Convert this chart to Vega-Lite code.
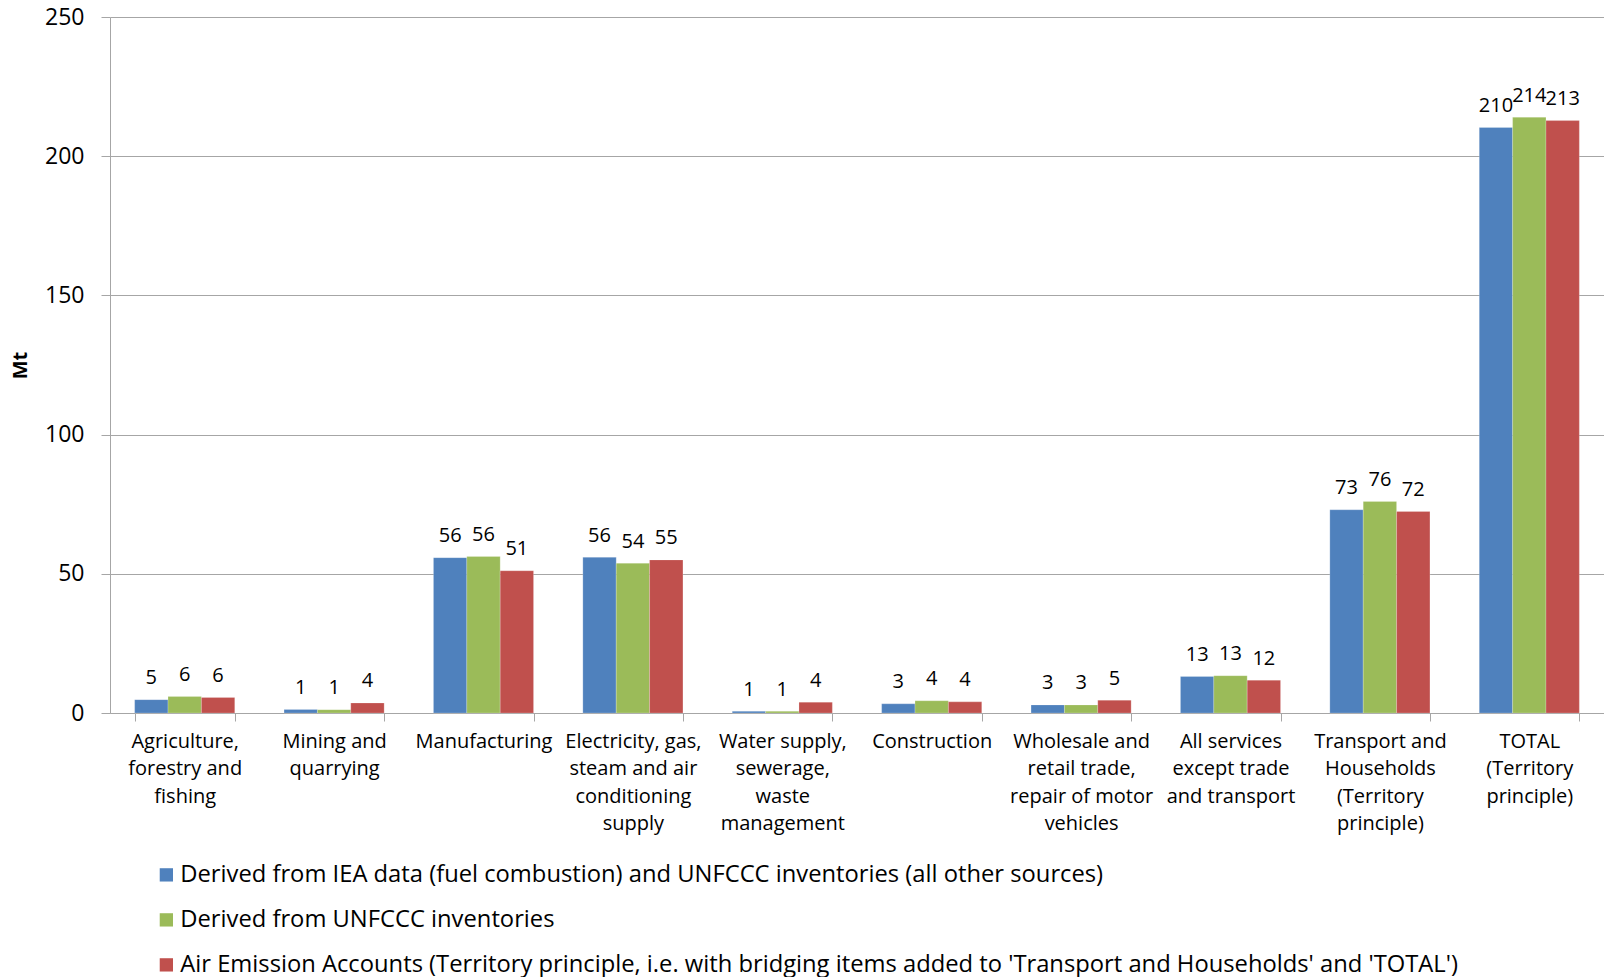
{
  "$schema": "https://vega.github.io/schema/vega-lite/v6.json",
  "width": 1494,
  "height": 696,
  "autosize": {"type": "none"},
  "padding": {"left": 110, "top": 17, "right": 0, "bottom": 264},
  "background": "white",
  "config": {
    "view": {"stroke": null},
    "font": "Open Sans",
    "text": {"font": "Open Sans", "color": "#000000"}
  },
  "data": {
    "values": [
      {"sector": "Agriculture,\nforestry and\nfishing", "source": "Derived from IEA data (fuel combustion) and UNFCCC inventories (all other sources)", "mt": 4.8},
      {"sector": "Agriculture,\nforestry and\nfishing", "source": "Derived from UNFCCC inventories", "mt": 5.9},
      {"sector": "Agriculture,\nforestry and\nfishing", "source": "Air Emission Accounts (Territory principle, i.e. with bridging items added to 'Transport and Households' and 'TOTAL')", "mt": 5.6},
      {"sector": "Mining and\nquarrying", "source": "Derived from IEA data (fuel combustion) and UNFCCC inventories (all other sources)", "mt": 1.3},
      {"sector": "Mining and\nquarrying", "source": "Derived from UNFCCC inventories", "mt": 1.2},
      {"sector": "Mining and\nquarrying", "source": "Air Emission Accounts (Territory principle, i.e. with bridging items added to 'Transport and Households' and 'TOTAL')", "mt": 3.6},
      {"sector": "Manufacturing", "source": "Derived from IEA data (fuel combustion) and UNFCCC inventories (all other sources)", "mt": 55.8},
      {"sector": "Manufacturing", "source": "Derived from UNFCCC inventories", "mt": 56.2},
      {"sector": "Manufacturing", "source": "Air Emission Accounts (Territory principle, i.e. with bridging items added to 'Transport and Households' and 'TOTAL')", "mt": 51.1},
      {"sector": "Electricity, gas,\nsteam and air\nconditioning\nsupply", "source": "Derived from IEA data (fuel combustion) and UNFCCC inventories (all other sources)", "mt": 55.9},
      {"sector": "Electricity, gas,\nsteam and air\nconditioning\nsupply", "source": "Derived from UNFCCC inventories", "mt": 53.8},
      {"sector": "Electricity, gas,\nsteam and air\nconditioning\nsupply", "source": "Air Emission Accounts (Territory principle, i.e. with bridging items added to 'Transport and Households' and 'TOTAL')", "mt": 55.0},
      {"sector": "Water supply,\nsewerage,\nwaste\nmanagement", "source": "Derived from IEA data (fuel combustion) and UNFCCC inventories (all other sources)", "mt": 0.6},
      {"sector": "Water supply,\nsewerage,\nwaste\nmanagement", "source": "Derived from UNFCCC inventories", "mt": 0.6},
      {"sector": "Water supply,\nsewerage,\nwaste\nmanagement", "source": "Air Emission Accounts (Territory principle, i.e. with bridging items added to 'Transport and Households' and 'TOTAL')", "mt": 3.9},
      {"sector": "Construction", "source": "Derived from IEA data (fuel combustion) and UNFCCC inventories (all other sources)", "mt": 3.3},
      {"sector": "Construction", "source": "Derived from UNFCCC inventories", "mt": 4.4},
      {"sector": "Construction", "source": "Air Emission Accounts (Territory principle, i.e. with bridging items added to 'Transport and Households' and 'TOTAL')", "mt": 4.0},
      {"sector": "Wholesale and\nretail trade,\nrepair of motor\nvehicles", "source": "Derived from IEA data (fuel combustion) and UNFCCC inventories (all other sources)", "mt": 2.9},
      {"sector": "Wholesale and\nretail trade,\nrepair of motor\nvehicles", "source": "Derived from UNFCCC inventories", "mt": 2.9},
      {"sector": "Wholesale and\nretail trade,\nrepair of motor\nvehicles", "source": "Air Emission Accounts (Territory principle, i.e. with bridging items added to 'Transport and Households' and 'TOTAL')", "mt": 4.6},
      {"sector": "All services\nexcept trade\nand transport", "source": "Derived from IEA data (fuel combustion) and UNFCCC inventories (all other sources)", "mt": 13.1},
      {"sector": "All services\nexcept trade\nand transport", "source": "Derived from UNFCCC inventories", "mt": 13.4},
      {"sector": "All services\nexcept trade\nand transport", "source": "Air Emission Accounts (Territory principle, i.e. with bridging items added to 'Transport and Households' and 'TOTAL')", "mt": 11.8},
      {"sector": "Transport and\nHouseholds\n(Territory\nprinciple)", "source": "Derived from IEA data (fuel combustion) and UNFCCC inventories (all other sources)", "mt": 73.0},
      {"sector": "Transport and\nHouseholds\n(Territory\nprinciple)", "source": "Derived from UNFCCC inventories", "mt": 76.0},
      {"sector": "Transport and\nHouseholds\n(Territory\nprinciple)", "source": "Air Emission Accounts (Territory principle, i.e. with bridging items added to 'Transport and Households' and 'TOTAL')", "mt": 72.4},
      {"sector": "TOTAL\n(Territory\nprinciple)", "source": "Derived from IEA data (fuel combustion) and UNFCCC inventories (all other sources)", "mt": 210.3},
      {"sector": "TOTAL\n(Territory\nprinciple)", "source": "Derived from UNFCCC inventories", "mt": 214.0},
      {"sector": "TOTAL\n(Territory\nprinciple)", "source": "Air Emission Accounts (Territory principle, i.e. with bridging items added to 'Transport and Households' and 'TOTAL')", "mt": 212.8}
    ]
  },
  "encoding": {
    "x": {
      "field": "sector",
      "type": "nominal",
      "sort": null,
      "scale": {"paddingInner": 0.33, "paddingOuter": 0.165},
      "axis": {
        "title": null,
        "labelAngle": 0,
        "labelExpr": "isString(datum.value) ? split(datum.value, '\\n') : ''",
        "labelFont": "Open Sans",
        "labelFontSize": 20,
        "labelLineHeight": 27.6,
        "labelColor": "#000000",
        "labelPadding": 10,
        "labelBaseline": "top",
        "labelLimit": 0,
        "tickBand": "extent",
        "tickSize": 8,
        "tickColor": "#a6a6a6",
        "domainColor": "#a6a6a6",
        "grid": false
      }
    },
    "xOffset": {
      "field": "source",
      "type": "nominal",
      "sort": [
        "Derived from IEA data (fuel combustion) and UNFCCC inventories (all other sources)",
        "Derived from UNFCCC inventories",
        "Air Emission Accounts (Territory principle, i.e. with bridging items added to 'Transport and Households' and 'TOTAL')"
      ],
      "scale": {"paddingInner": 0, "paddingOuter": 0}
    },
    "y": {
      "field": "mt",
      "type": "quantitative",
      "scale": {"domain": [0, 250], "nice": false},
      "axis": {
        "values": [0, 50, 100, 150, 200, 250],
        "title": "Mt",
        "titleFont": "Open Sans",
        "titleFontSize": 20,
        "titleFontWeight": "bold",
        "titleColor": "#000000",
        "titleAngle": 270,
        "titleX": -90,
        "titleY": 348,
        "titleAlign": "center",
        "titleBaseline": "middle",
        "labelFont": "Open Sans",
        "labelFontSize": 23,
        "labelColor": "#000000",
        "labelPadding": 17,
        "tickSize": 9,
        "tickColor": "#a6a6a6",
        "domainColor": "#a6a6a6",
        "grid": true,
        "gridColor": "#a6a6a6",
        "gridWidth": 1
      }
    }
  },
  "layer": [
    {
      "mark": {"type": "bar", "stroke": "#ffffff", "strokeOpacity": 0.35, "strokeWidth": 0.6},
      "encoding": {
        "color": {
          "field": "source",
          "type": "nominal",
          "scale": {
            "domain": [
              "Derived from IEA data (fuel combustion) and UNFCCC inventories (all other sources)",
              "Derived from UNFCCC inventories",
              "Air Emission Accounts (Territory principle, i.e. with bridging items added to 'Transport and Households' and 'TOTAL')"
            ],
            "range": ["#4f81bd", "#9bbb59", "#c0504d"]
          },
          "legend": {
            "orient": "none",
            "legendX": 44.5,
            "legendY": 846,
            "direction": "vertical",
            "title": null,
            "padding": 0,
            "symbolType": "square",
            "symbolSize": 177,
            "symbolStrokeWidth": 0,
            "labelFont": "Open Sans",
            "labelFontSize": 23.75,
            "labelColor": "#000000",
            "labelOffset": 2,
            "labelLimit": 0,
            "rowPadding": 20
          }
        }
      }
    },
    {
      "mark": {"type": "text", "baseline": "alphabetic", "align": "center", "dy": -15.5, "fontSize": 20},
      "encoding": {
        "text": {"field": "mt", "type": "quantitative", "format": ".0f"}
      }
    }
  ]
}
